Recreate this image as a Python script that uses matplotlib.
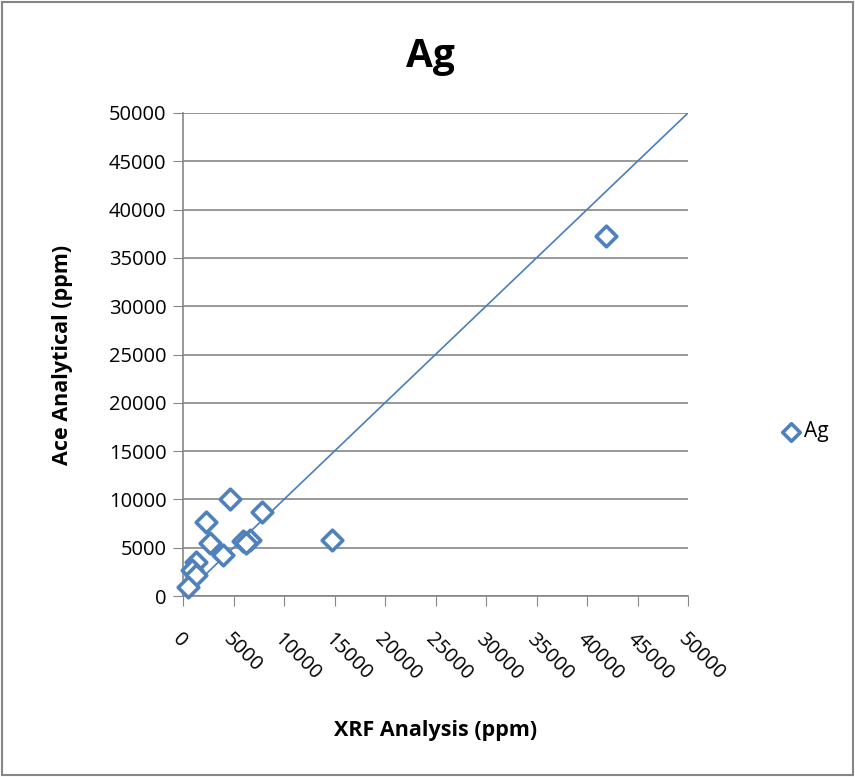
import matplotlib.pyplot as plt
from matplotlib.patches import Rectangle

# values (ppm)
xrf = [4700, 7800, 2250, 2700, 3950, 5950, 6600, 6200, 14750, 1250, 850, 1300, 500, 41900]
ace = [10000, 8650, 7650, 5450, 4200, 5650, 5750, 5500, 5750, 3550, 2700, 2200, 950, 37300]
line_x = [0, 50000]
line_y = [0, 50000]

blue = '#4F81BD'
grey = '#868686'

plt.rcParams['font.family'] = ['Open Sans', 'DejaVu Sans']

fig = plt.figure(figsize=(8.55, 7.77), dpi=100)
ax = fig.add_axes([183 / 855, 1 - 596 / 777, (688 - 183) / 855, (596 - 113) / 777])

ax.plot(line_x, line_y, color='#4A7EBB', lw=1.2, zorder=2)
ax.scatter(xrf, ace, marker='D', s=110, facecolors='white', edgecolors=blue,
           linewidths=2.6, zorder=3, label='Ag', clip_on=False)

ax.set_xlim(0, 50000)
ax.set_ylim(0, 50000)
ax.set_xticks(range(0, 50001, 5000))
ax.set_yticks(range(0, 50001, 5000))
ax.set_xticklabels([str(v) for v in range(0, 50001, 5000)], rotation=-45,
                   ha='left', va='top', rotation_mode='anchor')
ax.tick_params(axis='x', length=7, color=grey, labelsize=14.5, pad=17)
ax.tick_params(axis='y', length=7, color=grey, labelsize=14.5, pad=5)
ax.grid(axis='y', color=grey, lw=1.2)
ax.set_axisbelow(True)
for s in ['top', 'right']:
    ax.spines[s].set_visible(False)
for s in ['left', 'bottom']:
    ax.spines[s].set_color(grey)
    ax.spines[s].set_linewidth(1.2)

ax.set_xlabel('XRF Analysis (ppm)', fontsize=15.5, weight='bold', labelpad=26)
ax.set_ylabel('Ace Analytical (ppm)', fontsize=15.5, weight='bold', labelpad=26)
fig.text(430 / 855, 1 - 57 / 777, 'Ag', fontsize=28, weight='bold', ha='center', va='center')

ax.legend(loc='center left', bbox_to_anchor=(760 / 855, 1 - 432 / 777),
          bbox_transform=fig.transFigure, frameon=False, fontsize=15,
          handletextpad=0.0, handlelength=1.2, markerscale=0.85)

fig.patches.append(Rectangle((2 / 855, 2 / 777), 851 / 855, 773 / 777, transform=fig.transFigure,
                             fill=False, edgecolor=grey, lw=1.5))

fig.savefig('out.png', dpi=100)
